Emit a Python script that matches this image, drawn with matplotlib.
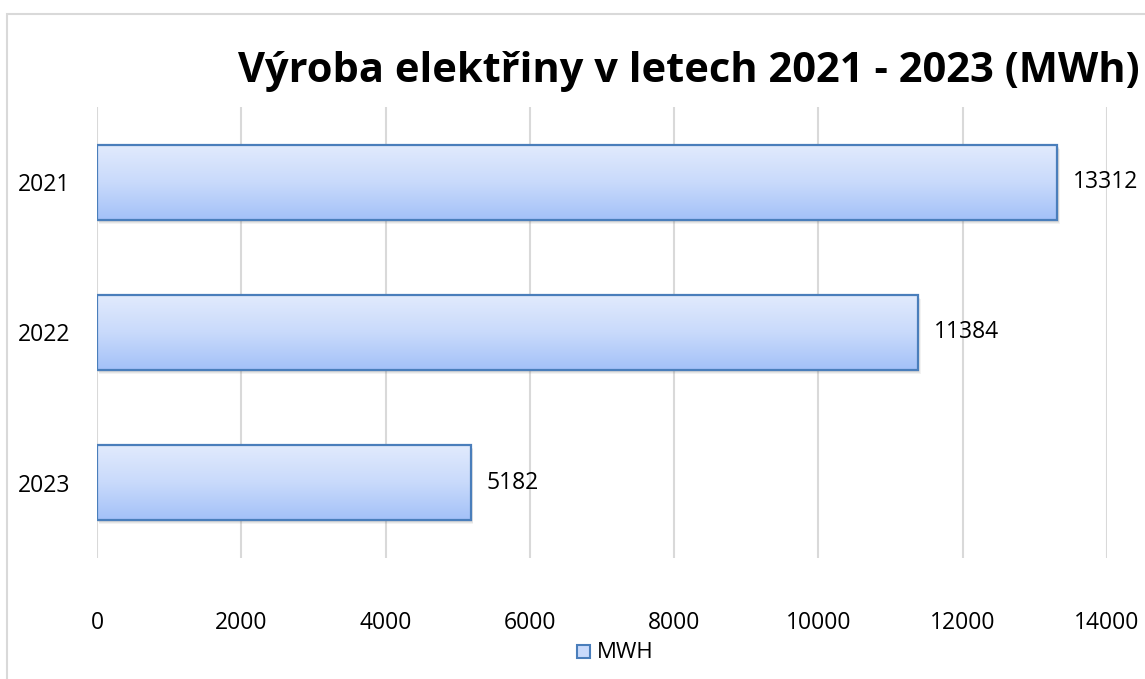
import matplotlib
matplotlib.use("Agg")
import matplotlib.pyplot as plt
import numpy as np
from matplotlib.patches import Rectangle
from matplotlib.colors import LinearSegmentedColormap
from matplotlib.transforms import offset_copy

years = ["2021", "2022", "2023"]
mwh = [13312, 11384, 5182]
xticks = [0, 2000, 4000, 6000, 8000, 10000, 12000, 14000]
title = "Výroba elektřiny v letech 2021 - 2023 (MWh)"
legend_label = "MWH"

W, H = 1145, 679
fig = plt.figure(figsize=(W / 100, H / 100), dpi=100)
plt.rcParams['font.family'] = ['Open Sans', 'DejaVu Sans']

# outer chart border
fig.patches.append(Rectangle((7 / W, -0.05), 1.2, 1 - 14 / H + 0.05, transform=fig.transFigure,
                             fill=False, edgecolor="#d9d9d9", linewidth=1.5))

ax = fig.add_axes([97 / W, 1 - 558 / H, (1107 - 97) / W, (558 - 107) / H])
ax.set_xlim(0, 14000)
ax.set_ylim(2.5, -0.5)
for s in ax.spines.values():
    s.set_visible(False)
ax.set_xticks(xticks)
ax.set_xticklabels([str(t) for t in xticks], fontsize=16.5)
ax.set_yticks(range(len(years)))
ax.set_yticklabels(years, fontsize=16.5)
ax.tick_params(axis="x", length=0, pad=38)
ax.tick_params(axis="y", length=0, pad=19)
ax.grid(axis="x", color="#d9d9d9", linewidth=1.5)
ax.set_axisbelow(True)

cmap = LinearSegmentedColormap.from_list("g", ["#e2ebfd", "#c9dafb", "#a3c1f8"])
grad = np.linspace(0, 1, 256).reshape(-1, 1)
h = 0.5
for i, v in enumerate(mwh):
    # shadow
    for k, a in [(4, 0.10), (3, 0.12), (2, 0.15)]:
        sh = Rectangle((0, i - h / 2), v, h, facecolor="#808080", edgecolor="none", alpha=a,
                       transform=offset_copy(ax.transData, fig=fig, x=k * 0.6, y=-k, units="dots"),
                       zorder=1.5)
        ax.add_patch(sh)
    bar = ax.barh(i, v, height=h, facecolor="none", edgecolor="#4a7ebb", linewidth=1.6, zorder=3)[0]
    im = ax.imshow(grad, cmap=cmap, aspect="auto", extent=(0, v, i + h / 2, i - h / 2),
                   origin="upper", zorder=2)
    im.set_clip_path(bar)
    ax.annotate(str(v), (v, i), xytext=(11, 0), textcoords="offset points", va="center",
                ha="left", fontsize=16.5, color="#000000")
ax.set_xlim(0, 14000)
ax.set_ylim(2.5, -0.5)

fig.text(689 / W, 1 - 72 / H, title, ha="center", va="center", fontsize=30, fontweight="bold")

# legend
fig.patches.append(Rectangle((577 / W, 1 - 658 / H), 13 / W, 13 / H, transform=fig.transFigure,
                             facecolor="#c9dafb", edgecolor="#4a7ebb", linewidth=1.5))
fig.text(597 / W, 1 - 652 / H, legend_label, ha="left", va="center", fontsize=16)

fig.savefig("out.png", dpi=100)
